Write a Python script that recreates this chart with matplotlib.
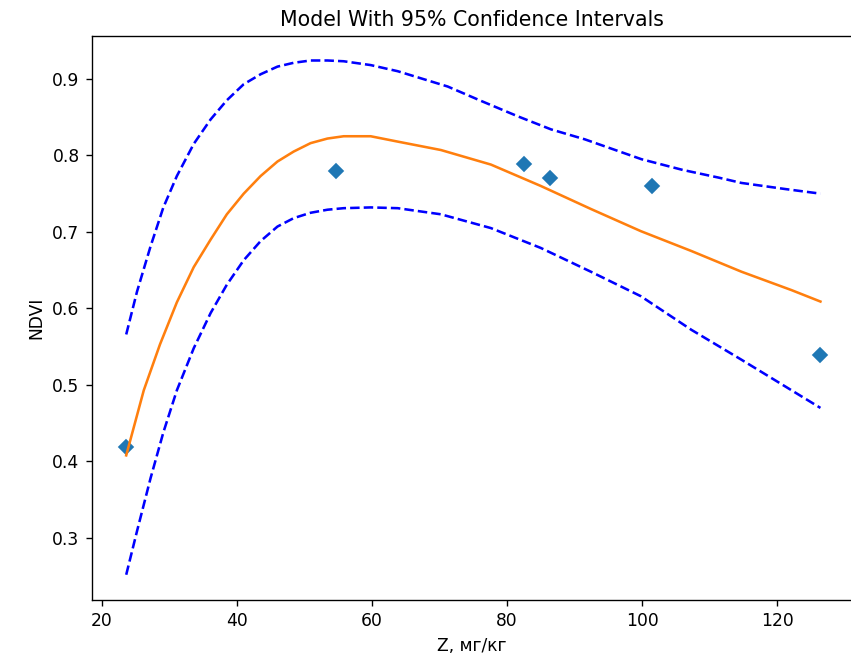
import matplotlib
matplotlib.use("Agg")
import matplotlib.pyplot as plt

# observed points
z_obs = [23.6, 54.6, 82.5, 86.3, 101.5, 126.4]
ndvi_obs = [0.419, 0.780, 0.789, 0.770, 0.760, 0.539]

# fitted model curve
z_fit = [23.6, 26.2, 28.6, 31.1, 33.6, 36.1, 38.5, 41.0, 43.5, 46.0, 48.4,
         50.9, 53.4, 55.8, 59.8, 63.8, 70.2, 77.6, 85.0, 92.4, 99.8,
         107.3, 114.7, 122.1, 126.4]
ndvi_fit = [0.408, 0.493, 0.553, 0.608, 0.654, 0.690, 0.723, 0.750, 0.773, 0.792, 0.805,
            0.816, 0.822, 0.825, 0.825, 0.818, 0.807, 0.788, 0.760, 0.730, 0.701,
            0.675, 0.648, 0.624, 0.609]

# upper 95% bound
z_up = [23.6, 25.2, 27.2, 29.1, 31.1, 33.6, 36.1, 38.5, 41.0, 43.5, 46.0,
        48.4, 50.9, 53.4, 55.8, 59.8, 63.8, 71.2, 76.2, 81.6, 86.5,
        91.5, 99.9, 106.0, 111.3, 114.7, 121.2, 126.4]
ndvi_up = [0.566, 0.622, 0.681, 0.732, 0.773, 0.815, 0.847, 0.872, 0.893, 0.906, 0.916,
           0.921, 0.924, 0.924, 0.923, 0.918, 0.910, 0.890, 0.871, 0.851, 0.834,
           0.821, 0.795, 0.781, 0.771, 0.764, 0.756, 0.750]

# lower 95% bound
z_lo = [23.6, 25.2, 27.2, 29.1, 31.1, 33.6, 36.1, 38.5, 41.0, 43.5, 46.0,
        48.4, 50.9, 53.4, 55.8, 59.8, 63.8, 70.2, 77.6, 85.0, 92.4,
        99.8, 107.3, 114.7, 121.2, 126.4]
ndvi_lo = [0.252, 0.309, 0.378, 0.438, 0.493, 0.548, 0.594, 0.631, 0.663, 0.688, 0.707,
           0.718, 0.725, 0.729, 0.731, 0.732, 0.731, 0.723, 0.705, 0.679, 0.648,
           0.616, 0.572, 0.533, 0.498, 0.470]

dpi = 123
fig = plt.figure(figsize=(851 / dpi, 657 / dpi), dpi=dpi)
ax = fig.add_axes([91.5 / 851, 57 / 657, 760 / 851, 564 / 657])

ax.plot(z_obs, ndvi_obs, 'D', color='#1f77b4')
ax.plot(z_fit, ndvi_fit, color='#ff7f0e')
ax.plot(z_up, ndvi_up, 'b--')
ax.plot(z_lo, ndvi_lo, 'b--')

ax.set_xlim(18.46, 131.0)
ax.set_ylim(0.219, 0.956)
ax.set_xticks([20, 40, 60, 80, 100, 120])

ax.set_title("Model With 95% Confidence Intervals")
ax.set_xlabel("Z, мг/кг")
ax.set_ylabel("NDVI")

fig.savefig("out.png", dpi=dpi)
